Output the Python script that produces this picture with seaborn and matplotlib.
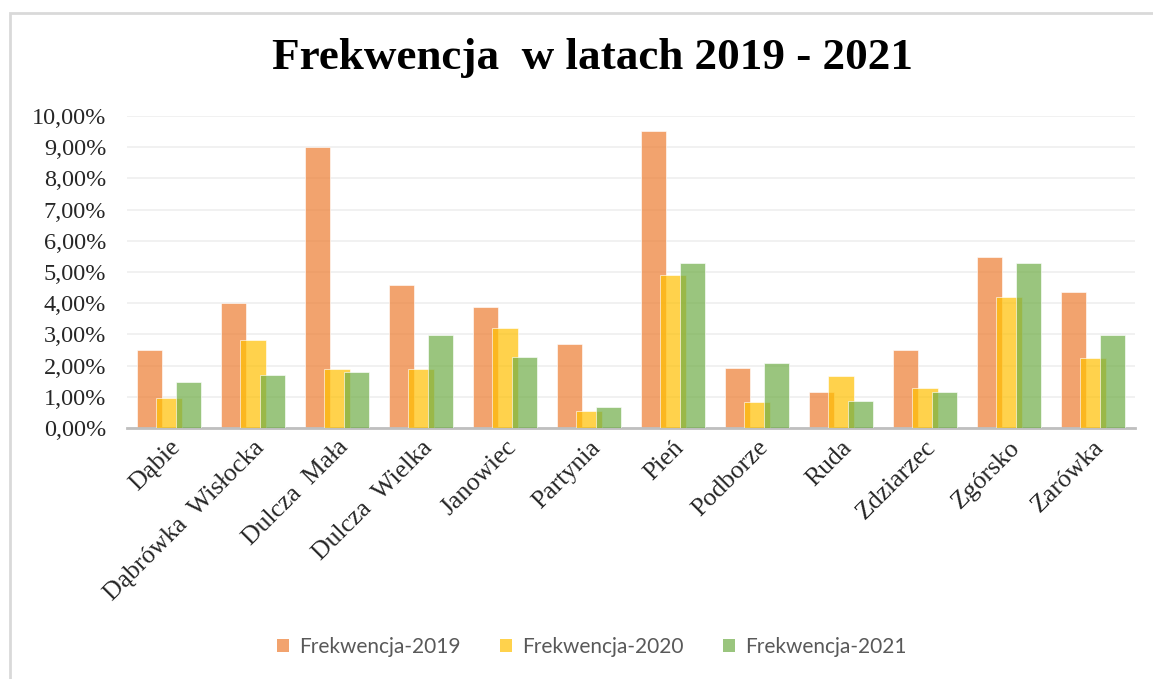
import pandas as pd
import numpy as np
import matplotlib.pyplot as plt
import seaborn as sns
from matplotlib.ticker import FuncFormatter, MultipleLocator
from matplotlib.patches import Rectangle

gminy = ['Dąbie', 'Dąbrówka  Wisłocka', 'Dulcza  Mała', 'Dulcza  Wielka', 'Janowiec',
         'Partynia', 'Pień', 'Podborze', 'Ruda', 'Zdziarzec', 'Zgórsko', 'Zarówka']
frek_2019 = [2.50, 4.00, 9.02, 4.57, 3.88, 2.68, 9.51, 1.91, 1.16, 2.49, 5.49, 4.37]
frek_2020 = [0.97, 2.82, 1.90, 1.90, 3.21, 0.54, 4.90, 0.83, 1.67, 1.29, 4.20, 2.24]
frek_2021 = [1.48, 1.70, 1.79, 2.97, 2.28, 0.67, 5.28, 2.07, 0.88, 1.16, 5.28, 2.97]
serie = ['Frekwencja-2019', 'Frekwencja-2020', 'Frekwencja-2021']
kolory = ['#ED7D31', '#FFC000', '#70AD47']

df = pd.DataFrame({'gmina': gminy, serie[0]: frek_2019, serie[1]: frek_2020, serie[2]: frek_2021})
long = df.melt(id_vars='gmina', var_name='seria', value_name='val')
long['val'] = long['val'] / 100

sns.set_style('white')
plt.rcParams['font.family'] = ['Liberation Serif', 'DejaVu Serif']

fig = plt.figure(figsize=(11.53, 6.79), dpi=100)
ax = fig.add_axes([127 / 1153, 1 - 428 / 679, (1135 - 127) / 1153, (428 - 116) / 679])

sns.barplot(data=long, x='gmina', y='val', hue='seria', palette=kolory, alpha=0.7,
            width=0.693, dodge=True, errorbar=None, ax=ax, legend=False, saturation=1)

# bars overlap like in Excel: widen each bar around its centre
bw = 0.306
for i, cont in enumerate(ax.containers):
    for p in cont:
        c = p.get_x() + p.get_width() / 2
        p.set_width(bw)
        p.set_x(c - bw / 2)
        p.set_zorder(2 + i)
        p.set_edgecolor((1, 1, 1, 0.5))
        p.set_linewidth(0.6)

ax.set_ylim(0, 0.10)
ax.set_xlim(-0.5, len(gminy) - 0.5)
ax.yaxis.set_major_locator(MultipleLocator(0.01))
ax.yaxis.set_major_formatter(FuncFormatter(lambda v, _: f'{v * 100:.2f}%'.replace('.', ',')))
ax.grid(axis='y', color='#EFEFEF', linewidth=1.2, zorder=0)
ax.set_axisbelow(True)
for s in ['top', 'right', 'left']:
    ax.spines[s].set_visible(False)
ax.spines['bottom'].set_color('#BFBFBF')
ax.spines['bottom'].set_linewidth(2)
ax.set_xlabel('')
ax.set_ylabel('')
ax.tick_params(axis='y', labelsize=17.5, colors='#262626', length=0, pad=15)
ax.tick_params(axis='x', length=0, pad=6)
ax.set_xticks(range(len(gminy)))
ax.set_xticklabels(gminy, rotation=45, ha='right', rotation_mode='anchor',
                   fontsize=18.5, color='#262626')

fig.text(0.514, 1 - 58 / 679, 'Frekwencja  w latach 2019 - 2021', ha='center', va='center',
         fontsize=32.5, fontweight='bold', color='#000000')

handles = [Rectangle((0, 0), 1, 1, facecolor=k, alpha=0.7, edgecolor='none') for k in kolory]
fig.legend(handles, serie, loc='center', bbox_to_anchor=(0.513, 1 - 647 / 679), ncol=3,
           frameon=False, handlelength=0.6, handleheight=0.6, columnspacing=1.9,
           handletextpad=0.45, prop={'family': 'Lato', 'size': 15}, labelcolor='#595959')

fig.patches.append(Rectangle((10 / 1153, -0.1), 1.1, 1 - 13 / 679 + 0.1, transform=fig.transFigure,
                             fill=False, edgecolor='#D9D9D9', linewidth=2))

fig.savefig('out.png', dpi=100)
